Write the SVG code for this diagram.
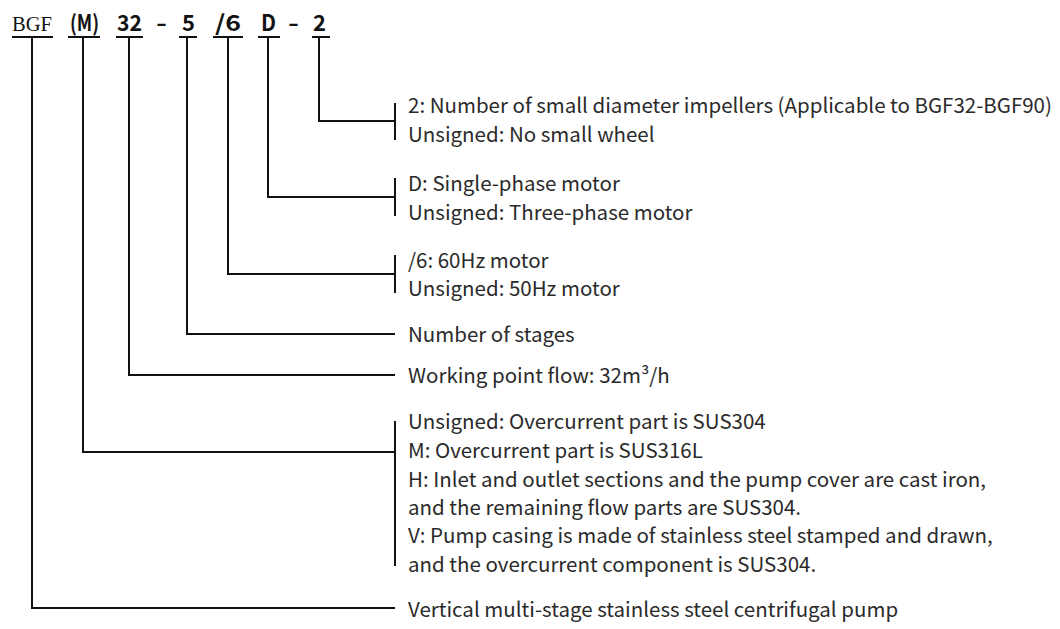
<svg xmlns="http://www.w3.org/2000/svg" width="1060" height="629" viewBox="0 0 1060 629">
<style>
.ln{stroke:#111;stroke-width:2;fill:none}
.t{font-family:"Noto Sans CJK SC","Noto Sans",sans-serif;font-size:20.5px;fill:#2a2a2a}
.h{font-family:"Noto Sans CJK SC","Noto Sans",sans-serif;font-size:22px;font-weight:700;fill:#111}
.s{font-family:"Liberation Serif",serif;font-size:20px;fill:#111}
</style>
<rect width="1060" height="629" fill="#fff"/>
<g id="header">
<text class="s" x="12" y="31" textLength="40" lengthAdjust="spacingAndGlyphs">BGF</text>
<text class="h" x="70" y="31" textLength="29" lengthAdjust="spacingAndGlyphs">(M)</text>
<text class="h" x="117" y="31" textLength="25" lengthAdjust="spacingAndGlyphs">32</text>
<text class="h" x="156" y="31" textLength="11" lengthAdjust="spacingAndGlyphs">-</text>
<text class="h" x="182" y="31" textLength="13" lengthAdjust="spacingAndGlyphs">5</text>
<text class="h" x="215" y="31" textLength="26" lengthAdjust="spacingAndGlyphs">/6</text>
<text class="h" x="261" y="31" textLength="15" lengthAdjust="spacingAndGlyphs">D</text>
<text class="h" x="288" y="31" textLength="11" lengthAdjust="spacingAndGlyphs">-</text>
<text class="h" x="313" y="31" textLength="13" lengthAdjust="spacingAndGlyphs">2</text>
</g>
<g id="connectors">
<path class="ln" d="M12 37H53M68 37H100M116 37H143M179 37H197M213 37H243M258 37H280M312 37H330"/>
<path class="ln" d="M319 37V121H395"/>
<path class="ln" d="M268 37V197H395"/>
<path class="ln" d="M228 37V274H395"/>
<path class="ln" d="M187 37V334H395"/>
<path class="ln" d="M129 37V375H395"/>
<path class="ln" d="M83 37V452H395"/>
<path class="ln" d="M32 37V608H395"/>
<path class="ln" d="M395 103V140M395 178V216M395 255V293M395 421V566"/>
</g>
<g id="node-2">
<text class="t" x="408" y="113">2: Number of small diameter impellers (Applicable to BGF32-BGF90)</text>
<text class="t" x="408" y="142">Unsigned: No small wheel</text>
</g>
<g id="node-D">
<text class="t" x="408" y="191">D: Single-phase motor</text>
<text class="t" x="408" y="220">Unsigned: Three-phase motor</text>
</g>
<g id="node-6">
<text class="t" x="408" y="268">/6: 60Hz motor</text>
<text class="t" x="408" y="296">Unsigned: 50Hz motor</text>
</g>
<g id="node-5">
<text class="t" x="408" y="342">Number of stages</text>
</g>
<g id="node-32">
<text class="t" x="408" y="383">Working point flow: 32m³/h</text>
</g>
<g id="node-M">
<text class="t" x="408" y="429">Unsigned: Overcurrent part is SUS304</text>
<text class="t" x="408" y="458">M: Overcurrent part is SUS316L</text>
<text class="t" x="408" y="487">H: Inlet and outlet sections and the pump cover are cast iron,</text>
<text class="t" x="408" y="515">and the remaining flow parts are SUS304.</text>
<text class="t" x="408" y="543">V: Pump casing is made of stainless steel stamped and drawn,</text>
<text class="t" x="408" y="572">and the overcurrent component is SUS304.</text>
</g>
<g id="node-BGF">
<text class="t" x="408" y="617">Vertical multi-stage stainless steel centrifugal pump</text>
</g>
</svg>
